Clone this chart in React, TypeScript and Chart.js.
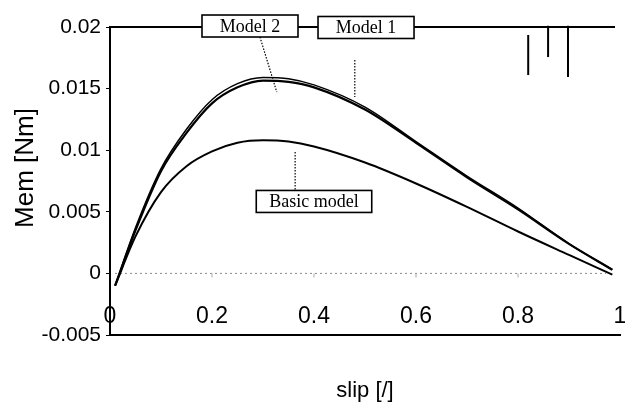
import React, { useEffect, useRef } from "react";
import { Chart, registerables } from "chart.js";

Chart.register(...registerables);

// slip values (x)
const slip = [0.01, 0.05, 0.1, 0.15, 0.2, 0.25, 0.3, 0.35, 0.4, 0.5, 0.6, 0.7, 0.8, 0.9, 0.985];
// torque series (Nm)
const model2 = [-0.001, 0.0037, 0.0085, 0.0117, 0.0141, 0.0154, 0.0159, 0.0158, 0.0153, 0.0135, 0.0107, 0.0079, 0.0053, 0.0024, 0.0003];
const model1 = [-0.001, 0.0035, 0.0083, 0.0114, 0.0138, 0.0151, 0.01565, 0.01555, 0.0151, 0.0133, 0.0106, 0.0078, 0.0052, 0.0024, 0.0003];
const basicModel = [-0.001, 0.003, 0.0066, 0.0087, 0.0099, 0.0106, 0.0108, 0.0107, 0.0103, 0.009, 0.0073, 0.0054, 0.0034, 0.0015, -0.0001];

const xTickValues = [0, 0.2, 0.4, 0.6, 0.8, 1];
const xTickLabels = ["0", "0.2", "0.4", "0.6", "0.8", "1"];

const yTitle = "Mem [Nm]";
const xTitle = "slip [/]";

// annotation labels with anchor (data coords)
const boxLabels = ["Model 2", "Model 1", "Basic model"];
const boxX = [0.2745, 0.502, 0.4];
const boxY = [0.02008, 0.01996, 0.00584];
const leaderX1 = [0.294, 0.48, 0.363];
const leaderY1 = [0.01919, 0.01732, 0.00985];
const leaderX2 = [0.327, 0.48, 0.363];
const leaderY2 = [0.01472, 0.01432, 0.00677];

// small vertical marks near top-right
const markX = [0.82, 0.859, 0.898];
const markYTop = [0.01935, 0.0201, 0.0201];
const markYBottom = [0.0161, 0.01756, 0.01594];

const SANS = "'Liberation Sans', Arial, sans-serif";
const SERIF = "'Liberation Serif', 'Times New Roman', serif";

const decorPlugin = {
  id: "decor",
  beforeDatasetsDraw(chart: any) {
    const { ctx, chartArea } = chart;
    const xs = chart.scales.x;
    const ys = chart.scales.y;
    ctx.save();
    // dotted zero line
    const y0 = ys.getPixelForValue(0);
    ctx.strokeStyle = "#8a8a8a";
    ctx.lineWidth = 1;
    ctx.setLineDash([2, 3]);
    ctx.beginPath();
    ctx.moveTo(chartArea.left + 5, y0);
    ctx.lineTo(chartArea.right - 14, y0);
    ctx.stroke();
    ctx.setLineDash([]);
    // tiny ticks under zero line
    ctx.strokeStyle = "#aaa";
    for (let i = 1; i < xTickValues.length - 1; i++) {
      const px = xs.getPixelForValue(xTickValues[i]);
      ctx.beginPath();
      ctx.moveTo(px, y0);
      ctx.lineTo(px, y0 + 4);
      ctx.stroke();
    }
    // top line
    const yTop = ys.getPixelForValue(0.02);
    ctx.strokeStyle = "#000";
    ctx.lineWidth = 2;
    ctx.beginPath();
    ctx.moveTo(chartArea.left - 1, yTop);
    ctx.lineTo(chartArea.right - 5, yTop);
    ctx.stroke();
    // x tick labels (inside the plot, above bottom axis)
    ctx.fillStyle = "#000";
    ctx.font = "23px " + SANS;
    ctx.textAlign = "center";
    ctx.textBaseline = "middle";
    const yl = ys.getPixelForValue(-0.005) - 18;
    xTickValues.forEach((v, i) => {
      ctx.fillText(xTickLabels[i], xs.getPixelForValue(v), yl);
    });
    // y title
    ctx.save();
    ctx.translate(26, 168);
    ctx.rotate(-Math.PI / 2);
    ctx.font = "26px " + SANS;
    ctx.fillText(yTitle, 0, 0);
    ctx.restore();
    ctx.restore();
  },
  afterDatasetsDraw(chart: any) {
    const { ctx } = chart;
    const xs = chart.scales.x;
    const ys = chart.scales.y;
    ctx.save();
    // leader lines
    ctx.strokeStyle = "#000";
    ctx.lineWidth = 1.2;
    ctx.setLineDash([1.5, 1.5]);
    for (let i = 0; i < boxLabels.length; i++) {
      ctx.beginPath();
      ctx.moveTo(xs.getPixelForValue(leaderX1[i]), ys.getPixelForValue(leaderY1[i]));
      ctx.lineTo(xs.getPixelForValue(leaderX2[i]), ys.getPixelForValue(leaderY2[i]));
      ctx.stroke();
    }
    ctx.setLineDash([]);
    // boxes
    ctx.font = "18px " + SERIF;
    ctx.textAlign = "center";
    ctx.textBaseline = "middle";
    for (let i = 0; i < boxLabels.length; i++) {
      const cx = xs.getPixelForValue(boxX[i]);
      const cy = ys.getPixelForValue(boxY[i]);
      const w = Math.max(ctx.measureText(boxLabels[i]).width + 26, 96);
      const h = 22;
      ctx.fillStyle = "#fff";
      ctx.fillRect(cx - w / 2, cy - h / 2, w, h);
      ctx.lineWidth = 1.6;
      ctx.strokeStyle = "#000";
      ctx.strokeRect(cx - w / 2, cy - h / 2, w, h);
      ctx.fillStyle = "#000";
      ctx.fillText(boxLabels[i], cx, cy + 1);
    }
    // vertical marks
    ctx.lineWidth = 2;
    for (let i = 0; i < markX.length; i++) {
      const px = xs.getPixelForValue(markX[i]);
      ctx.beginPath();
      ctx.moveTo(px, ys.getPixelForValue(markYTop[i]));
      ctx.lineTo(px, ys.getPixelForValue(markYBottom[i]));
      ctx.stroke();
    }
    ctx.restore();
  },
};

export default function App() {
  const ref = useRef<HTMLCanvasElement | null>(null);
  useEffect(() => {
    document.body.style.margin = "0";
    const mk = (arr: number[]) => slip.map((s, i) => ({ x: s, y: arr[i] }));
    const chart = new Chart(ref.current as HTMLCanvasElement, {
      type: "line",
      data: {
        datasets: [
          { label: "Model 2", data: mk(model2), borderColor: "#000", borderWidth: 1.5, pointRadius: 0, cubicInterpolationMode: "monotone", fill: false },
          { label: "Model 1", data: mk(model1), borderColor: "#000", borderWidth: 2.2, pointRadius: 0, cubicInterpolationMode: "monotone", fill: false },
          { label: "Basic model", data: mk(basicModel), borderColor: "#000", borderWidth: 2, pointRadius: 0, cubicInterpolationMode: "monotone", fill: false },
        ],
      },
      options: {
        animation: false,
        responsive: true,
        maintainAspectRatio: false,
        layout: { padding: { top: 27, right: 5, left: 0, bottom: 0 } },
        plugins: { legend: { display: false }, tooltip: { enabled: false } },
        scales: {
          x: {
            type: "linear",
            min: 0,
            max: 1,
            ticks: { display: false },
            grid: { display: true, drawOnChartArea: false, drawTicks: false },
            border: { display: true, color: "#000", width: 2 },
            title: { display: true, text: xTitle, color: "#000", font: { family: SANS, size: 22 }, padding: { top: 0, bottom: 2 } },
            afterFit: (scale: any) => { scale.height = 71; },
          },
          y: {
            type: "linear",
            min: -0.005,
            max: 0.02,
            ticks: {
              stepSize: 0.005,
              color: "#000",
              font: { family: SANS, size: 21 },
              padding: 5,
              callback: (v: any) => String(Number(Number(v).toFixed(3))),
            },
            grid: { display: true, drawOnChartArea: false, drawTicks: true, tickLength: 4, tickColor: "#000", tickWidth: 1 },
            border: { display: true, color: "#000", width: 2 },
            afterFit: (scale: any) => { scale.width = 110; },
          },
        },
      },
      plugins: [decorPlugin],
    } as any);
    return () => chart.destroy();
  }, []);
  return (
    <div style={{ position: "fixed", left: 0, top: 0, width: 625, height: 406, background: "#fff" }}>
      <canvas ref={ref} />
    </div>
  );
}
